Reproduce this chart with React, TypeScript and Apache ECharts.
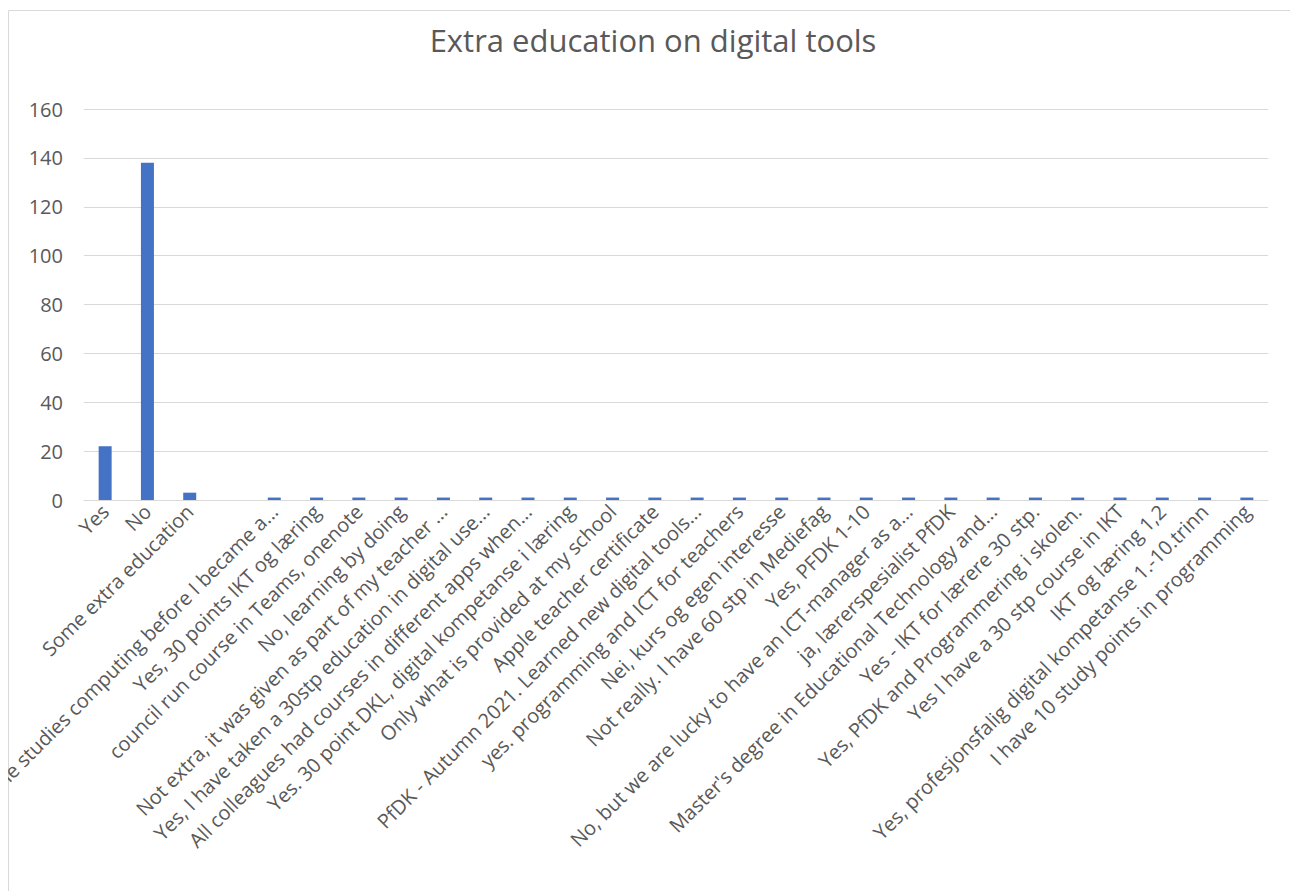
import React, { useEffect, useRef } from "react";
import * as echarts from "echarts";

const title = "Extra education on digital tools";

const categories: string[] = [
  "Yes",
  "No",
  "Some extra education",
  "",
  "Some studies computing before I became a...",
  "Yes, 30 points IKT og læring",
  "council run course in Teams, onenote",
  "No, learning by doing",
  "Not extra, it was given as part of my teacher ...",
  "Yes, I have taken a 30stp education in digital use...",
  "All colleagues had courses in different apps when...",
  "Yes. 30 point DKL, digital kompetanse i læring",
  "Only what is provided at my school",
  "Apple teacher certificate",
  "PfDK - Autumn 2021. Learned new digital tools...",
  "yes. programming and ICT for teachers",
  "Nei, kurs og egen interesse",
  "Not really. I have 60 stp in Mediefag",
  "Yes, PFDK 1-10",
  "No, but we are lucky to have an ICT-manager as a...",
  "ja, lærerspesialist PfDK",
  "Master's degree in Educational Technology and...",
  "Yes - IKT for lærere 30 stp.",
  "Yes, PfDK and Programmering i skolen.",
  "Yes I have a 30 stp course in IKT",
  "IKT og læring 1,2",
  "Yes, profesjonsfalig digital kompetanse 1.-10.trinn",
  "I have 10 study points in programming",
];

const counts: number[] = [
  22, 138, 3, 0, 1, 1, 1, 1, 1, 1, 1, 1, 1, 1, 1, 1, 1, 1, 1, 1, 1, 1, 1, 1, 1, 1, 1, 1,
];

const yMin = 0;
const yMax = 160;
const yStep = 20;

export default function App() {
  const ref = useRef<HTMLDivElement>(null);
  useEffect(() => {
    if (!ref.current) return;
    const chart = echarts.init(ref.current, null, { renderer: "svg" });
    const font = "'Open Sans', 'Noto Sans', sans-serif";
    chart.setOption({
      animation: false,
      backgroundColor: "#ffffff",
      textStyle: { fontFamily: font },
      title: {
        text: title,
        left: "center",
        top: 11,
        textStyle: { fontFamily: font, fontSize: 31, fontWeight: "normal", color: "#595959" },
      },
      graphic: [
        {
          type: "rect",
          shape: { x: 0.5, y: 2.5, width: 1288, height: 900 },
          style: { fill: "none", stroke: "#d9d9d9", lineWidth: 1 },
          silent: true,
        },
      ],
      grid: {
        left: 76,
        right: 30,
        top: 101,
        bottom: 391,
        containLabel: false,
        outerBoundsMode: "none",
      },
      xAxis: {
        type: "category",
        data: categories,
        axisLine: { show: true, lineStyle: { color: "#d9d9d9", width: 1 } },
        axisTick: { show: false },
        axisLabel: {
          interval: 0,
          rotate: 45,
          color: "#595959",
          fontSize: 20,
          fontFamily: font,
          margin: 8,
          hideOverlap: false,
        },
      },
      yAxis: {
        type: "value",
        min: yMin,
        max: yMax,
        interval: yStep,
        axisLine: { show: false },
        axisTick: { show: false },
        splitLine: { lineStyle: { color: "#d9d9d9", width: 1 } },
        axisLabel: { color: "#595959", fontSize: 20, fontFamily: font, margin: 21 },
      },
      series: [
        {
          type: "bar",
          data: counts,
          barWidth: 13,
          itemStyle: { color: "#4472c4" },
        },
      ],
    });
    return () => chart.dispose();
  }, []);
  return <div ref={ref} style={{ width: 1290, height: 883, overflow: "hidden" }} />;
}
